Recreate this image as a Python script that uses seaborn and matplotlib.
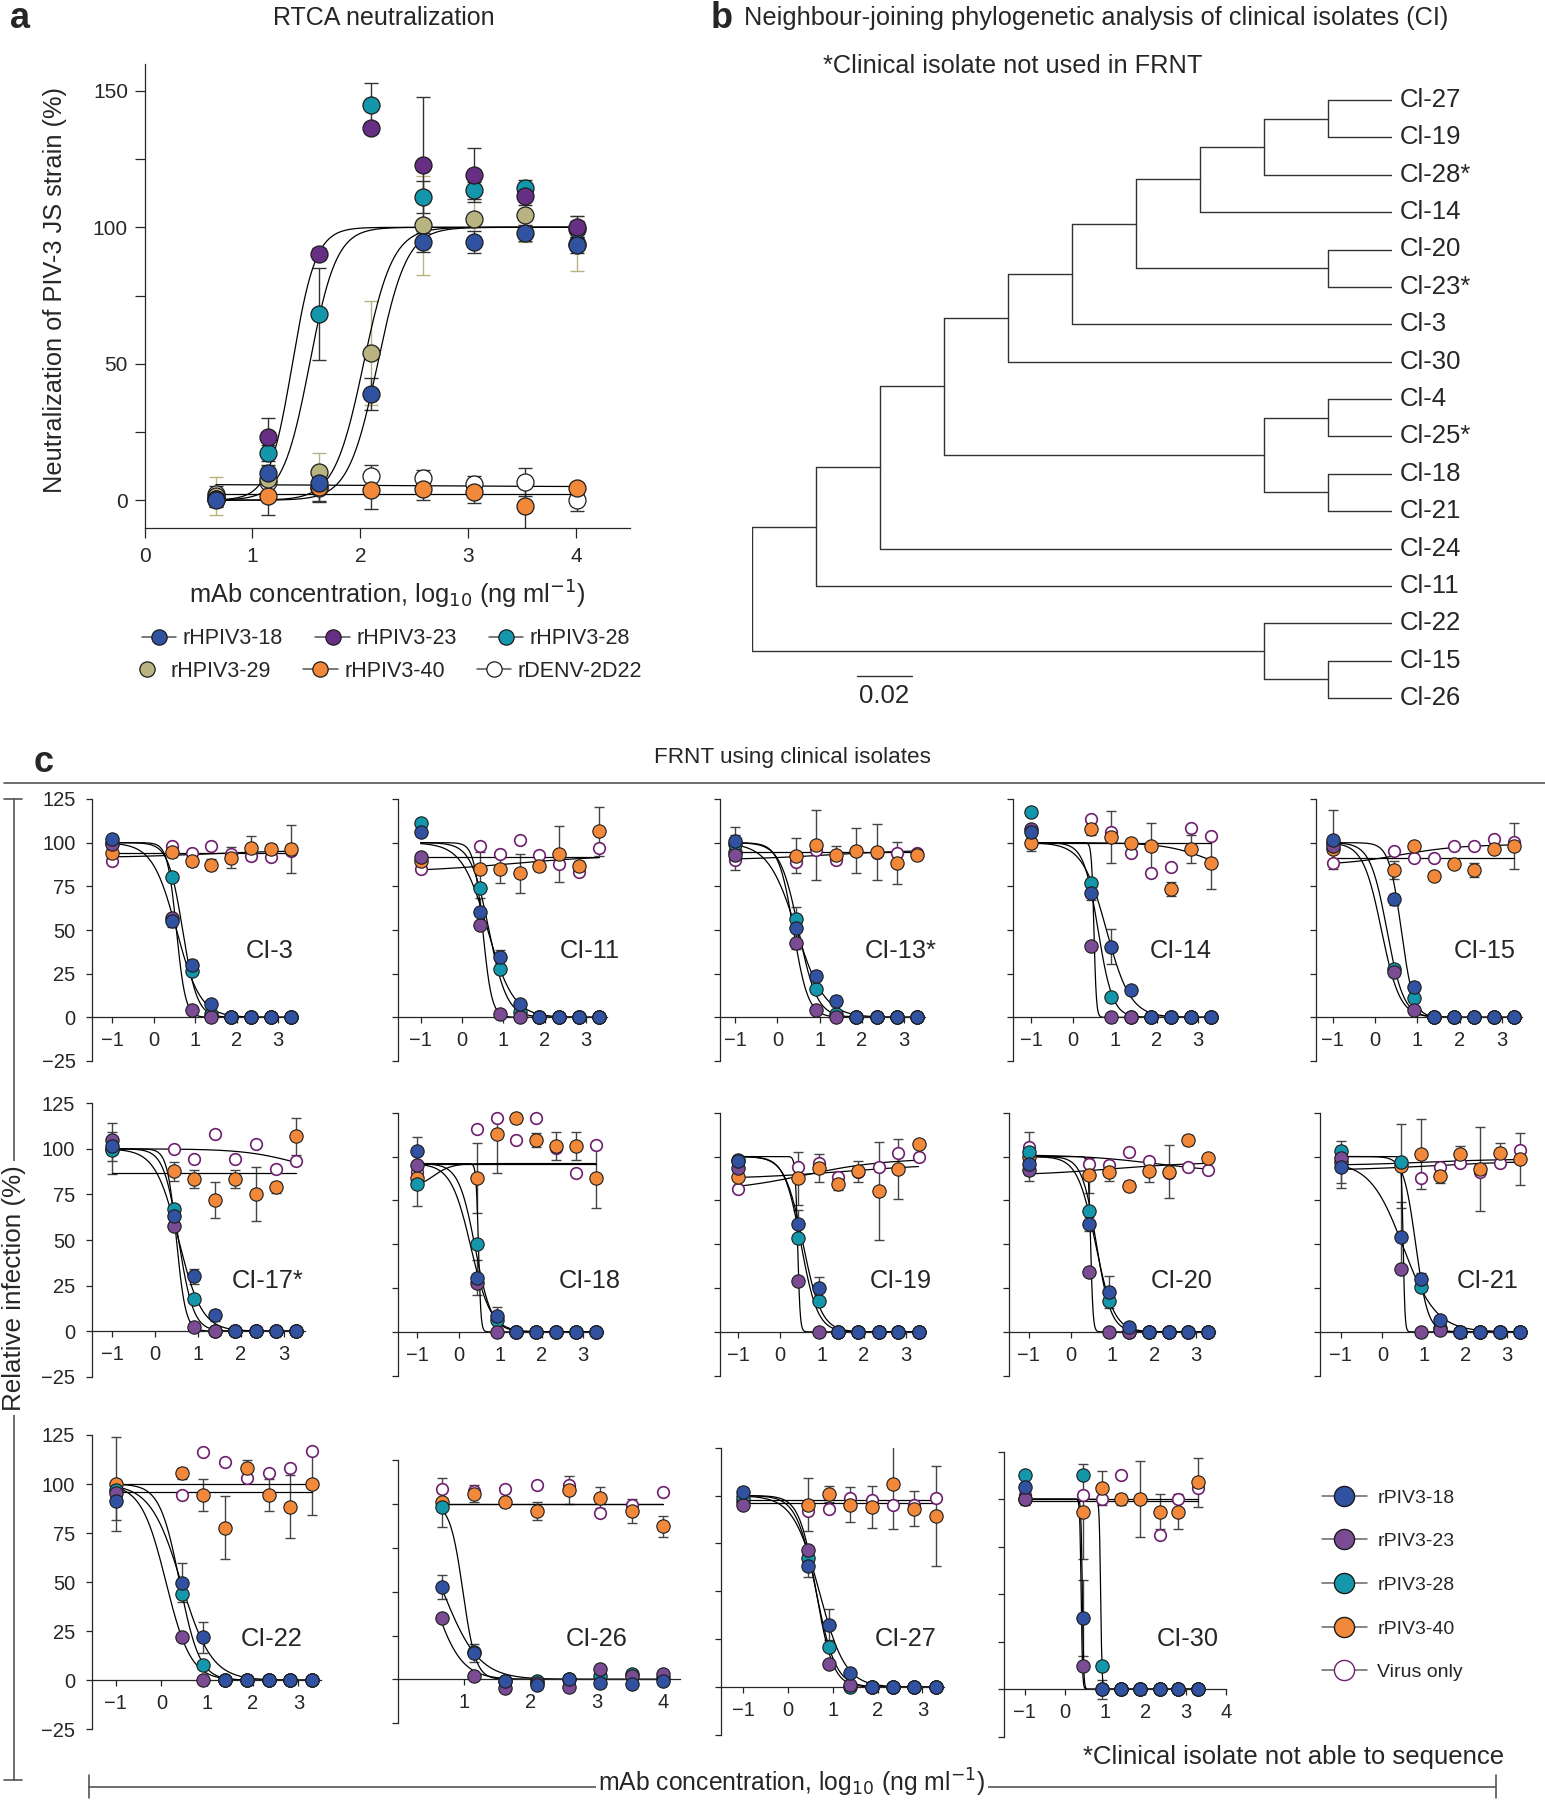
import numpy as np
import pandas as pd
import matplotlib.pyplot as plt
import matplotlib.lines as mlines
import seaborn as sns

# %%
# Panel a: RTCA neutralization of PIV-3 JS strain
rtca_dose = [0.66, 1.14, 1.62, 2.10, 2.58, 3.05, 3.53, 4.01]
rtca_names = ["rHPIV3-18", "rHPIV3-23", "rHPIV3-28", "rHPIV3-29", "rHPIV3-40", "rDENV-2D22"]
rtca_18 = [0, 9.8, 6.4, 38.9, 94.8, 94.5, 98, 93.5]
rtca_23 = [0.5, 23.2, 90.3, 136.4, 122.8, 119.2, 111.3, 100]
rtca_28 = [0.3, 17.3, 68.2, 144.9, 111.1, 113.5, 114.4, 99.5]
rtca_29 = [1.5, 7.7, 10.3, 54, 100.7, 102.9, 104.5, 94]
rtca_40 = [0.5, 1.4, 4.7, 3.8, 4.0, 3.0, -2.2, 4.3]
rtca_denv = [2.1, 6.5, 4.3, 8.9, 8.0, 6.0, 6.7, 0]
rtca_18_sd = [2, 3, 3, 6, 4, 4, 3, 3]
rtca_23_sd = [2, 7, 2, 2, 25, 10, 3, 4]
rtca_28_sd = [2, 3, 17, 8, 6, 3, 3, 3]
rtca_29_sd = [7, 5, 7, 19, 18, 10, 10, 10]
rtca_40_sd = [3, 7, 5, 7, 4, 4, 9, 2]
rtca_denv_sd = [3, 4, 5, 4, 3, 3, 5, 4]
# sigmoid fits (ec50, hill) for 18, 23, 28, 29 ; flat fits (left, right) for 40, DENV
rtca_ec50 = [2.16, 1.37, 1.53, 2.03]
rtca_hill = [3.2, 4.0, 3.5, 3.2]
rtca_flat = [[2.4, 2.4], [5.8, 4.9]]

# %%
# Panel b: neighbour-joining tree (branch lengths in steps)
tree_newick = (
    "((((((((((Cl-27:1,Cl-19:1):1,Cl-28*:2):1,Cl-14:3):1,(Cl-20:1,Cl-23*:1):3):1,"
    "Cl-3:5):1,Cl-30:6):1,((Cl-4:1,Cl-25*:1):1,(Cl-18:1,Cl-21:1):1):5):1,"
    "Cl-24:8):1,Cl-11:9):1,(Cl-22:2,(Cl-15:1,Cl-26:1):1):8);"
)
branch_step = 0.0234
scale_bar = 0.02

# %%
# Panel c: FRNT using clinical isolates
isolates = ["CI-3", "CI-11", "CI-13*", "CI-14", "CI-15", "CI-17*", "CI-18",
            "CI-19", "CI-20", "CI-21", "CI-22", "CI-26", "CI-27", "CI-30"]
frnt_dose = [-1, 0.44, 0.92, 1.39, 1.87, 2.35, 2.82, 3.30]
frnt_dose_ci26 = [0.66, 1.14, 1.62, 2.10, 2.58, 3.05, 3.53, 4.0]

rpiv3_18 = [
    [102.3, 55, 29.8, 7.4, 0, 0, 0, 0],
    [105.9, 60.3, 34.7, 7.6, 0, 0, 0, 0],
    [101.1, 51.1, 23.6, 9.5, 0, 0, 0, 0],
    [105.9, 71.1, 40.3, 15.6, 0, 0, 0, 0],
    [101.7, 67.5, 17.5, 0, 0, 0, 0, 0],
    [101.3, 63.3, 30, 8.6, 0, 0, 0, 0],
    [103.2, 30.9, 9.2, 0, 0, 0, 0, 0],
    [97.4, 61.3, 25.1, 0, 0, 0, 0, 0],
    [95.5, 61.5, 22.8, 2.9, 0, 0, 0, 0],
    [94.2, 54.2, 30.4, 6.7, 0, 0, 0, 0],
    [91.5, 49.8, 21.8, 0, 0, 0, 0, 0],
    [52.7, 15.2, -1, -3.4, 0.4, -2.1, -2.5, -1],
    [101.7, 63.4, 32.6, 7.3, 0, 0, 0, 0],
    [106.3, 37.4, 0, 0, 0, 0, 0, 0],
]
rpiv3_23 = [
    [99.2, 57, 4.2, 0, 0, 0, 0, 0],
    [91.8, 52.7, 1.9, 0, 0, 0, 0, 0],
    [93.2, 42.8, 4.2, 0, 0, 0, 0, 0],
    [107.8, 40.7, 0, 0, 0, 0, 0, 0],
    [98.3, 25.7, 4.2, 0, 0, 0, 0, 0],
    [104.9, 57.8, 2.2, 0, 0, 0, 0, 0],
    [95, 27.9, 0, 0, 0, 0, 0, 0],
    [93.2, 29.1, 0, 0, 0, 0, 0, 0],
    [92.3, 34.2, 0, 0, 0, 0, 0, 0],
    [98.9, 35.8, 0, 1, 0, 0, 0, 0],
    [95.2, 21.8, 0, 0, 0, 0, 0, 0],
    [35.2, 1.9, -4.8, -2, -4.4, 5.7, 1.9, 3.2],
    [95.3, 71.4, 12.2, 1, 0, 0, 0, 0],
    [100, 12.3, 0, 0, 0, 0, 0, 0],
]
rpiv3_28 = [
    [100, 80.2, 26.3, 2, 0, 0, 0, 0],
    [111.5, 74.2, 27.5, 3, 0, 0, 0, 0],
    [99.2, 56.3, 16.3, 2, 0, 0, 0, 0],
    [117.3, 76.8, 11.4, 0, 0, 0, 0, 0],
    [100, 27.9, 10.8, 0, 0, 0, 0, 0],
    [99.5, 66.9, 17.6, 0, 0, 0, 0, 0],
    [84.2, 50, 6.5, 0, 0, 0, 0, 0],
    [98, 53.8, 17.7, 0, 0, 0, 0, 0],
    [102.4, 69.1, 17.5, 0, 0, 0, 0, 0],
    [103.1, 97, 25.7, 2, 0, 0, 0, 0],
    [97, 44.2, 8, 0, 0, 0, 0, 0],
    [98.3, 15.6, -1, -1, 0, 1.9, 3.2, 1],
    [99, 67.4, 20.9, 0, 0, 0, 0, 0],
    [112.5, 112.5, 12.3, 0, 0, 0, 0, 0],
]
rpiv3_40 = [
    [94.3, 94.8, 89.7, 87.4, 91.4, 96.9, 96.2, 96.4],
    [89.5, 84.9, 84.9, 82.4, 86.6, 93.7, 86.6, 106.5],
    [94.5, 92.6, 98.9, 93, 95.4, 94.7, 88.4, 92.8],
    [100, 107.6, 103.4, 100, 98.1, 73.2, 96.2, 88.4],
    [96.4, 84.4, 98.1, 81, 87.8, 84.4, 96.4, 98.1],
    [100, 87.6, 83.4, 72, 83.4, 75.3, 79, 106.8],
    [87.6, 87.6, 112.8, 121.9, 109.5, 106.1, 106.1, 87.6],
    [88.5, 87.5, 93.6, 84.1, 91.7, 80.3, 92.8, 107.1],
    [100, 89.4, 91.3, 83.1, 91.7, 91.3, 109.4, 98.9],
    [97, 94.6, 101.2, 88.8, 101.2, 92.7, 101.8, 98.6],
    [100, 105.4, 94.4, 77.7, 108.3, 94.4, 88.4, 100],
    [100.8, 105.9, 101.1, 96, 107.8, 103.6, 96, 87.3],
    [97, 95.3, 100.9, 95.3, 93.9, 106.3, 93.2, 89.2],
    [100, 93.5, 106.1, 100, 100, 93.5, 93.5, 108.8],
]
virus_only = [
    [89.7, 98.1, 93.9, 98.1, 93.7, 92.4, 92, 95],
    [84.9, 98.1, 93.7, 101.3, 92.9, 87.6, 83, 97.1],
    [90.1, 89.2, 95.8, 90.3, 95, 94, 93.9, 93.9],
    [100, 113.5, 105.9, 94.3, 82.5, 86.3, 108.2, 103.6],
    [88.4, 95.1, 91.1, 91.1, 98.3, 98.3, 102.1, 100.6],
    [100, 100, 94.5, 108, 94.5, 102.6, 89, 93.4],
    [91.4, 115.6, 121.9, 109.5, 121.9, 105, 90.5, 106.7],
    [81.4, 93.8, 96.5, 88.1, 91, 93.8, 102.2, 99.9],
    [105.6, 95.7, 95.1, 102.7, 97.6, 90.4, 94.2, 92.3],
    [100, 96.1, 87.9, 93.8, 96.5, 91.3, 96.5, 103.7],
    [97, 94.4, 116.5, 111, 102.9, 105.8, 108.3, 117],
    [108.4, 107.2, 108.4, 111, 111, 94.9, 99.6, 106.8],
    [100, 92.2, 93.2, 98.8, 97.6, 95.3, 95, 98.8],
    [102, 102.3, 100, 112.5, 100, 81.2, 100, 106.1],
]
rpiv3_18_sd = [
    [2, 3, 3, 2, 0, 0, 0, 0],
    [2, 8, 4, 2, 0, 0, 0, 0],
    [8, 12, 3, 3, 0, 0, 0, 0],
    [3, 4, 10, 2, 0, 0, 0, 0],
    [17, 3, 3, 2, 0, 0, 0, 0],
    [8, 4, 4, 3, 0, 0, 0, 0],
    [8, 10, 5, 0, 0, 0, 0, 0],
    [3, 8, 6, 0, 0, 0, 0, 0],
    [6, 4, 9, 0, 0, 0, 0, 0],
    [12, 20, 3, 2, 0, 0, 0, 0],
    [10, 10, 8, 0, 0, 0, 0, 0],
    [7, 5, 3, 0, 0, 0, 0, 0],
    [3, 6, 8, 2, 0, 0, 0, 0],
    [3, 20, 5, 0, 0, 0, 0, 0],
]
rpiv3_40_sd = [
    [3, 3, 3, 3, 6, 7, 3, 14],
    [3, 10, 8, 11, 3, 16, 3, 14],
    [10, 10, 20, 5, 13, 16, 12, 2],
    [5, 3, 15, 2, 13, 4, 8, 15],
    [2, 5, 2, 2, 2, 4, 2, 13],
    [14, 5, 5, 10, 5, 15, 3, 10],
    [16, 20, 22, 3, 4, 8, 8, 17],
    [5, 15, 8, 3, 6, 28, 17, 2],
    [14, 10, 5, 3, 6, 15, 3, 2],
    [12, 24, 20, 4, 5, 24, 6, 15],
    [24, 3, 8, 16, 4, 8, 16, 16],
    [14, 5, 3, 5, 8, 6, 7, 6],
    [3, 14, 4, 9, 11, 24, 9, 26],
    [3, 25, 9, 3, 20, 9, 9, 13],
]
# inhibition fits: [top, ec50, hill]
fit_18 = [[100, 0.55, 1.5], [100, 0.62, 1.4], [100, 0.45, 1.3], [100, 0.80, 1.5],
          [100, 0.62, 3.0], [100, 0.55, 1.6], [96, 0.30, 1.8], [100, 0.55, 2.0],
          [100, 0.60, 2.0], [97, 0.50, 1.1], [100, 0.43, 1.3], [100, 0.68, 1.6],
          [100, 0.70, 1.5], [100, 0.43, 25]]
fit_23 = [[100, 0.55, 4], [100, 0.50, 4], [100, 0.38, 2.5], [100, 0.50, 15],
          [100, 0.15, 2.0], [100, 0.50, 4], [96, 0.48, 15], [100, 0.42, 15],
          [100, 0.48, 15], [100, 0.50, 20], [100, 0.10, 1.6], [100, 0.50, 2.0],
          [100, 0.63, 2.3], [100, 0.40, 25]]
fit_28 = [[100, 0.70, 2.5], [100, 0.65, 2.0], [100, 0.50, 2.0], [100, 0.60, 2.5],
          [100, 0.28, 2.2], [100, 0.55, 2.5], [96, 0.40, 2.2], [100, 0.50, 2.2],
          [100, 0.62, 2.5], [100, 0.80, 3.0], [100, 0.40, 2.0], [100, 0.98, 4.5],
          [100, 0.63, 2.0], [100, 0.885, 25]]
# control fits: [left level, right level, ec50, hill]
fit_40 = [[94, 94, 1, 1], [92, 92, 1, 1], [94.5, 94.5, 1, 1], [100, 100, 1, 1],
          [91, 91, 1, 1], [87, 87, 1, 1], [96, 96, 1, 1], [87, 96, 1.5, 0.35],
          [89, 97, 1.0, 0.4], [95, 98.5, 1.0, 0.5], [100, 100, 1, 1], [100, 100, 1, 1],
          [96, 96, 1, 1], [100, 100, 1, 1]]
fit_virus = [[91.5, 95.5, 1.2, 0.45], [83, 93, 1.2, 0.35], [90, 96, 1.2, 0.4],
             [100, 80, 3.3, 0.8], [87, 99, 0.6, 0.6], [100, 85, 3.3, 0.7],
             [82, 96, -0.6, 2.0], [80, 99, 0.6, 0.45], [101, 91, 2.0, 0.5],
             [92, 97.5, 1.2, 0.4], [96, 96, 1, 1], [100, 100, 1, 1],
             [97.5, 97.5, 1, 1], [99, 99, 1, 1]]

# %%
# Colours
BLUE = "#3052a0"
PURPLE_A = "#672f84"
PURPLE = "#7b4b94"
TEAL = "#1497aa"
TAN = "#b8b380"
ORANGE = "#f1883a"
VIRUS = "#6e1f70"
EDGE = "#1c1c1c"

# Layout (figure pixels): left, right, top(125), bottom(-25), xmin, xmax
panel_boxes = [
    (92.2, 298, 799, 1061, -1.48, 3.48), (397.5, 606.9, 799, 1061, -1.56, 3.5),
    (720, 924.8, 799, 1061, -1.36, 3.49), (1013, 1217, 799, 1061, -1.44, 3.45),
    (1316, 1522, 799, 1061, -1.40, 3.48), (92, 305, 1103.3, 1376.7, -1.47, 3.5),
    (398, 603.4, 1112.7, 1375.7, -1.46, 3.49), (720, 924.8, 1112.7, 1375.7, -1.43, 3.45),
    (1008.8, 1214.6, 1112.7, 1375.7, -1.48, 3.45), (1320.3, 1526, 1112.7, 1375.7, -1.49, 3.45),
    (92, 320.8, 1435, 1729.3, -1.52, 3.49), (398, 679.7, 1460, 1723.3, 0, 4.25),
    (720.5, 944, 1447.7, 1735, -1.5, 3.48), (1004.4, 1225.8, 1451.7, 1736.7, -1.51, 4.0),
]
label_pos = [(2.8, 37.7), (3.09, 37.7), (2.92, 37.7), (2.59, 37.7), (2.6, 37.7),
             (2.63, 27.6), (3.17, 28.8), (2.88, 28.8), (2.67, 28.8), (2.53, 28.8),
             (2.42, 20.9), (3.0, 22.8), (2.63, 25.2), (3.06, 26.5)]

sns.set_theme(style="ticks")
plt.rcParams["font.family"] = ["Liberation Sans", "DejaVu Sans"]
plt.rcParams["axes.linewidth"] = 0.9

W, H = 1545, 1800
fig = plt.figure(figsize=(W / 100, H / 100), dpi=100)


def px_axes(l, r, t, b):
    return fig.add_axes([l / W, 1 - b / H, (r - l) / W, (b - t) / H])


def fig_text(x, y, s, **kw):
    fig.text(x / W, 1 - y / H, s, **kw)


def rise_curve(x, ec50, hill):
    return 100 / (1 + 10 ** ((ec50 - x) * hill))


def inhibition_curve(x, top, ec50, hill):
    return top / (1 + 10 ** ((x - ec50) * hill))


def ctrl_curve(x, left, right, ec50, hill):
    return right + (left - right) / (1 + 10 ** ((x - ec50) * hill))


# %%
# Panel a
ax_a = px_axes(144.6, 630, 63.6, 527.5)
df_a = pd.DataFrame({
    "dose": rtca_dose * 6,
    "value": rtca_18 + rtca_23 + rtca_28 + rtca_29 + rtca_40 + rtca_denv,
    "sd": rtca_18_sd + rtca_23_sd + rtca_28_sd + rtca_29_sd + rtca_40_sd + rtca_denv_sd,
    "mAb": np.repeat(rtca_names, len(rtca_dose)),
})
xs_a = np.linspace(rtca_dose[0], rtca_dose[-1], 300)
for ec, h in zip(rtca_ec50, rtca_hill):
    sns.lineplot(x=xs_a, y=rise_curve(xs_a, ec, h), ax=ax_a, color="black", lw=0.9,
                 estimator=None, zorder=2)
for left, right in rtca_flat:
    sns.lineplot(x=xs_a, y=ctrl_curve(xs_a, left, right, 2.4, 0.5), ax=ax_a,
                 color="black", lw=0.9, estimator=None, zorder=2)

a_colors = {"rHPIV3-18": BLUE, "rHPIV3-23": PURPLE_A, "rHPIV3-28": TEAL,
            "rHPIV3-29": TAN, "rHPIV3-40": ORANGE, "rDENV-2D22": "white"}
for z, name in enumerate(["rDENV-2D22", "rHPIV3-40", "rHPIV3-29", "rHPIV3-28",
                          "rHPIV3-23", "rHPIV3-18"]):
    sub = df_a[df_a["mAb"] == name]
    ax_a.errorbar(sub["dose"], sub["value"], yerr=sub["sd"], fmt="none",
                  ecolor=TAN if name == "rHPIV3-29" else "#333333",
                  elinewidth=1, capsize=5, capthick=1, zorder=1.5)
    sns.scatterplot(data=sub, x="dose", y="value", ax=ax_a, color=a_colors[name],
                    edgecolor=EDGE, linewidth=0.9, s=150, zorder=3 + z * 0.1,
                    legend=False, clip_on=False)

ax_a.set_xlim(0, 4.5)
ax_a.set_ylim(-10, 160)
ax_a.set_xticks([0, 1, 2, 3, 4])
ax_a.set_yticks([0, 25, 50, 75, 100, 125, 150])
ax_a.set_yticklabels(["0", "", "50", "", "100", "", "150"])
ax_a.tick_params(labelsize=15, length=7, width=0.9, direction="out")
ax_a.tick_params(axis="x", pad=7)
ax_a.tick_params(axis="y", pad=5)
ax_a.set_xlabel("")
ax_a.set_ylabel("")
sns.despine(ax=ax_a)

fig_text(10, 18, "a", fontsize=26, fontweight="bold", ha="left", va="center")
fig_text(384, 18, "RTCA neutralization", fontsize=18, ha="center", va="center")
fig_text(55, 290, "Neutralization of PIV-3 JS strain (%)", fontsize=18.3,
         rotation=90, ha="center", va="center")
fig_text(387, 595, r"mAb concentration, log$_{10}$ (ng ml$^{-1}$)", fontsize=18.3,
         ha="center", va="center")

# legend of panel a: two centred rows
a_rows = [["rHPIV3-18", "rHPIV3-23", "rHPIV3-28"], ["rHPIV3-29", "rHPIV3-40", "rDENV-2D22"]]
for row_y, row in zip([639, 671.5], a_rows):
    handles = [mlines.Line2D([], [], color="#555555",
                             lw=0 if name == "rHPIV3-29" else 1.1,
                             marker="o", ms=11, mfc=a_colors[name], mec=EDGE,
                             mew=0.9, label=name) for name in row]
    fig.legend(handles=handles, ncol=3, loc="center", bbox_to_anchor=(386 / W, 1 - row_y / H),
               frameon=False, fontsize=15.5, handlelength=1.6, handletextpad=0.3,
               columnspacing=1.5, borderpad=0, borderaxespad=0)

# %%
# Panel b: tree
def parse_newick(s):
    pos = 0

    def node():
        nonlocal pos
        children = []
        if s[pos] == "(":
            pos += 1
            children.append(node())
            while s[pos] == ",":
                pos += 1
                children.append(node())
            pos += 1
        start = pos
        while s[pos] not in ":,();":
            pos += 1
        name = s[start:pos]
        length = 0.0
        if s[pos] == ":":
            pos += 1
            start = pos
            while s[pos] not in ",();":
                pos += 1
            length = float(s[start:pos])
        return {"name": name, "len": length, "children": children}

    return node()


tree = parse_newick(tree_newick)
# leaf rows 0..16 at y 100..698 px; axes padded by one row on each side
row_px = (698 - 100) / 16
ax_b = px_axes(751.5, 1392.3, 100 - row_px, 698 + row_px)
leaf_counter = [0]
segments = []


def layout(n, x_parent):
    x = x_parent + n["len"] * branch_step
    if not n["children"]:
        y = leaf_counter[0]
        leaf_counter[0] += 1
        ax_b.text(x + 0.0028, y, n["name"], fontsize=18.5, ha="left", va="center")
    else:
        ys = [layout(c, x) for c in n["children"]]
        y = (min(ys) + max(ys)) / 2
        segments.append(([x, x], [min(ys), max(ys)]))
    segments.append(([x_parent, x], [y, y]))
    return y


layout(tree, 0.0)
for sx, sy in segments:
    sns.lineplot(x=sx, y=sy, ax=ax_b, color="#333333", lw=1.0, estimator=None,
                 sort=False)
sns.lineplot(x=[0.0385, 0.0385 + scale_bar], y=[15.42, 15.42], ax=ax_b,
             color="#333333", lw=1.0, estimator=None)
ax_b.text(0.0385 + scale_bar / 2, 15.95, f"{scale_bar:.2f}", fontsize=18.5,
          ha="center", va="center")
ax_b.set_xlim(0, 10 * branch_step)
ax_b.set_ylim(17, -1)
ax_b.axis("off")

fig_text(711, 18, "b", fontsize=26, fontweight="bold", ha="left", va="center")
fig_text(744, 18, "Neighbour-joining phylogenetic analysis of clinical isolates (CI)",
         fontsize=18.3, ha="left", va="center")
fig_text(823, 66, "*Clinical isolate not used in FRNT", fontsize=18.3, ha="left",
         va="center")

# %%
# Panel c
for i, name in enumerate(isolates):
    l, r, t, b, x0, x1 = panel_boxes[i]
    ax = px_axes(l, r, t, b)
    dose = frnt_dose_ci26 if name == "CI-26" else frnt_dose
    xs = np.linspace(dose[0], dose[-1], 500)
    for params in (fit_virus[i], fit_40[i]):
        sns.lineplot(x=xs, y=ctrl_curve(xs, *params), ax=ax, color="black", lw=0.9,
                     estimator=None, zorder=2)
    for params in (fit_28[i], fit_23[i], fit_18[i]):
        sns.lineplot(x=xs, y=inhibition_curve(xs, *params), ax=ax, color="black",
                     lw=0.9, estimator=None, zorder=2)
    for vals, sds in ((rpiv3_40[i], rpiv3_40_sd[i]), (rpiv3_18[i], rpiv3_18_sd[i])):
        ax.errorbar(dose, vals, yerr=sds, fmt="none", ecolor="#444444",
                    elinewidth=1, capsize=3.5, capthick=1, zorder=1.5)
    sns.scatterplot(x=dose, y=virus_only[i], ax=ax, color="white", edgecolor=VIRUS,
                    linewidth=1.2, s=70, zorder=3, legend=False, clip_on=False)
    for z, (vals, col) in enumerate(((rpiv3_40[i], ORANGE), (rpiv3_28[i], TEAL),
                                     (rpiv3_23[i], PURPLE), (rpiv3_18[i], BLUE))):
        sns.scatterplot(x=dose, y=vals, ax=ax, color=col, edgecolor=EDGE,
                        linewidth=0.8, s=92, zorder=3.1 + z * 0.1, legend=False,
                        clip_on=False)
    ax.set_xlim(x0, x1)
    ax.set_ylim(-25, 125)
    ax.spines["top"].set_visible(False)
    ax.spines["right"].set_visible(False)
    ax.spines["bottom"].set_position(("data", 0))
    ax.spines["left"].set_bounds(-25, 125)
    if name == "CI-26":
        ax.set_xticks([1, 2, 3, 4])
    elif name == "CI-30":
        ax.set_xticks([-1, 0, 1, 2, 3, 4])
    else:
        ax.set_xticks([-1, 0, 1, 2, 3])
    ax.set_yticks([-25, 0, 25, 50, 75, 100, 125])
    if i not in (0, 5, 10):
        ax.set_yticklabels([])
    ax.tick_params(labelsize=14.5, length=4, width=0.9, direction="out")
    ax.tick_params(axis="x", pad=6)
    ax.tick_params(axis="y", pad=8)
    ax.set_xlabel("")
    ax.set_ylabel("")
    ax.patch.set_alpha(0)
    lx, ly = label_pos[i]
    ax.text(lx, ly, name, fontsize=18.3, ha="center", va="center")

# frame decorations for panel c
ax_o = fig.add_axes([0, 0, 1, 1], zorder=-1)
for sx, sy in (([4, W], [783, 783]), ([14, 14], [799, 1780]), ([4, 22], [799, 799]),
               ([4, 22], [1780, 1780]), ([89, 1496], [1787, 1787]),
               ([89, 89], [1775, 1798]), ([1496, 1496], [1775, 1798])):
    sns.lineplot(x=sx, y=sy, ax=ax_o, color="#555555", lw=1.2, estimator=None,
                 sort=False)
ax_o.set_xlim(0, W)
ax_o.set_ylim(H, 0)
ax_o.axis("off")

fig_text(34, 763, "c", fontsize=26, fontweight="bold", ha="left", va="center")
fig_text(792, 758, "FRNT using clinical isolates", fontsize=16.2, ha="center",
         va="center")
fig_text(14, 1288, "Relative infection (%)", fontsize=18.7, rotation=90, ha="center",
         va="center", bbox=dict(facecolor="white", edgecolor="none", pad=3))
fig_text(792, 1783, r"mAb concentration, log$_{10}$ (ng ml$^{-1}$)", fontsize=17.8,
         ha="center", va="center",
         bbox=dict(facecolor="white", edgecolor="none", pad=2))
fig_text(1504, 1757, "*Clinical isolate not able to sequence", fontsize=18.5,
         ha="right", va="center")

c_handles = []
for lab, col, mec in (("rPIV3-18", BLUE, EDGE), ("rPIV3-23", PURPLE, EDGE),
                      ("rPIV3-28", TEAL, EDGE), ("rPIV3-40", ORANGE, EDGE),
                      ("Virus only", "white", VIRUS)):
    c_handles.append(mlines.Line2D([], [], color="#666666", lw=1.1, marker="o",
                                   ms=14.5, mfc=col, mec=mec, mew=1.0, label=lab))
fig.legend(handles=c_handles, loc="upper left", bbox_to_anchor=(1322 / W, 1 - 1489 / H),
           frameon=False, fontsize=14, handlelength=2.3, handletextpad=0.55,
           labelspacing=1.34, borderpad=0, borderaxespad=0)

fig.savefig("out.png", dpi=100)
